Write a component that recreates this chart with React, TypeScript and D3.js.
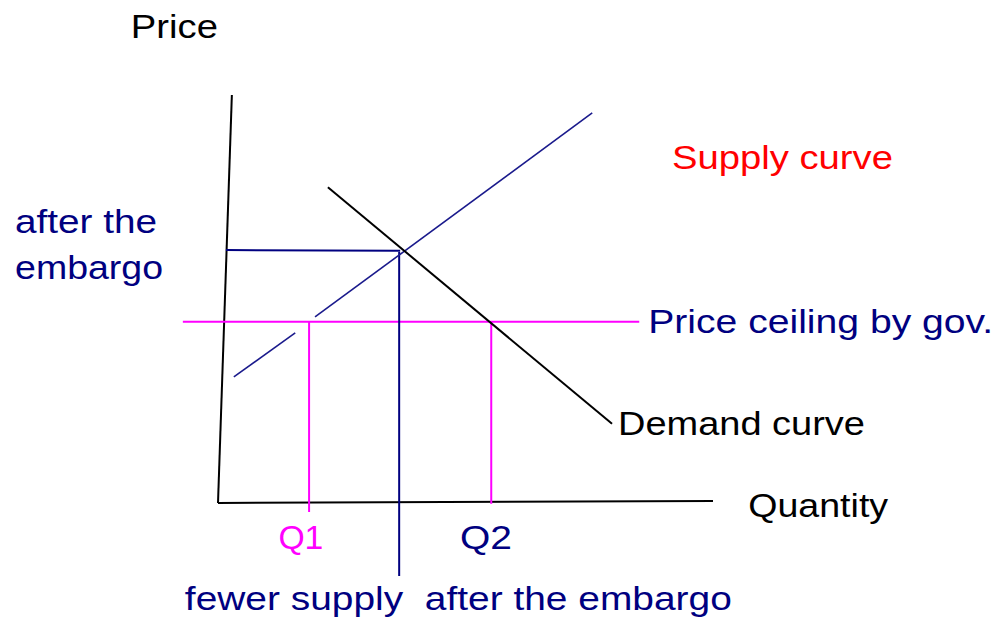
import React from "react";
import * as d3 from "d3";

// Diagram coordinates: quantity (x) and price (y), in arbitrary units
const yAxisPts: [number, number][] = [[2.8, 100], [0, 0]];
const xAxisPts: [number, number][] = [[0, 0], [100, 0.5]];
const supplyLowPts: [number, number][] = [[3.2, 30.9], [15.6, 41.7]];
const supplyHighPts: [number, number][] = [[19.6, 45.6], [75.6, 95.6]];
const demandPts: [number, number][] = [[22.2, 77.4], [79.6, 19.4]];
const equilPriceLine: [number, number][] = [[1.6, 62.0], [36.8, 61.8]];
const equilQtyLine: [number, number][] = [[36.6, 61.5], [36.6, -17.9]];
const ceilingLine: [number, number][] = [[-7.1, 44.4], [85.1, 44.4]];
const q1Line: [number, number][] = [[18.4, 44.4], [18.4, -2.2]];
const q2Line: [number, number][] = [[55.2, 44.4], [55.2, -0.2]];

const labelTexts = [
  "Price",
  "Supply curve",
  "after the",
  "embargo",
  "Price ceiling by gov.",
  "Demand curve",
  "Quantity",
  "Q1",
  "Q2",
  "fewer supply  after the embargo",
];
const labelX = [-17.6, 91.7, -41, -41, 86.9, 80.8, 107.1, 12.2, 48.9, -6.7];
const labelY = [114, 81.9, 66.2, 54.9, 41.7, 16.7, -3.4, -11.3, -11.3, -26.2];
const labelWidths = [87, 221, 142, 148, 345, 247, 140, 45, 52, 547];
const labelColors = ["#000", "#ff0000", "#000080", "#000080", "#000080", "#000", "#000", "#ff00ff", "#000080", "#000080"];

export default function App() {
  const W = 999, H = 622;
  const x = d3.scaleLinear().domain([0, 100]).range([218, 713]);
  const y = d3.scaleLinear().domain([0, 100]).range([503, 95]);
  const line = d3.line<[number, number]>().x(d => x(d[0])).y(d => y(d[1]));

  const segs: { pts: [number, number][]; color: string; w: number }[] = [
    { pts: yAxisPts, color: "#000", w: 2 },
    { pts: xAxisPts, color: "#000", w: 2 },
    { pts: ceilingLine, color: "#ff00ff", w: 2 },
    { pts: q1Line, color: "#ff00ff", w: 2 },
    { pts: q2Line, color: "#ff00ff", w: 2 },
    { pts: equilPriceLine, color: "#000080", w: 2 },
    { pts: equilQtyLine, color: "#000080", w: 2 },
    { pts: supplyLowPts, color: "#1a1a8c", w: 1.6 },
    { pts: supplyHighPts, color: "#1a1a8c", w: 1.6 },
    { pts: demandPts, color: "#000", w: 2 },
  ];

  return (
    <svg
      width={W}
      height={H}
      style={{ position: "fixed", left: 0, top: 0, background: "#fff" }}
      fontFamily="'Liberation Sans', Arial, sans-serif"
    >
      <rect width={W} height={H} fill="#fff" />
      {segs.map((s, i) => (
        <path key={i} d={line(s.pts) || ""} stroke={s.color} strokeWidth={s.w} fill="none" />
      ))}
      {labelTexts.map((t, i) => (
        <text
          key={i}
          x={x(labelX[i])}
          y={y(labelY[i])}
          fontSize={34}
          fill={labelColors[i]}
          textLength={labelWidths[i]}
          lengthAdjust="spacingAndGlyphs"
          style={{ whiteSpace: "pre" }}
        >
          {t}
        </text>
      ))}
    </svg>
  );
}
